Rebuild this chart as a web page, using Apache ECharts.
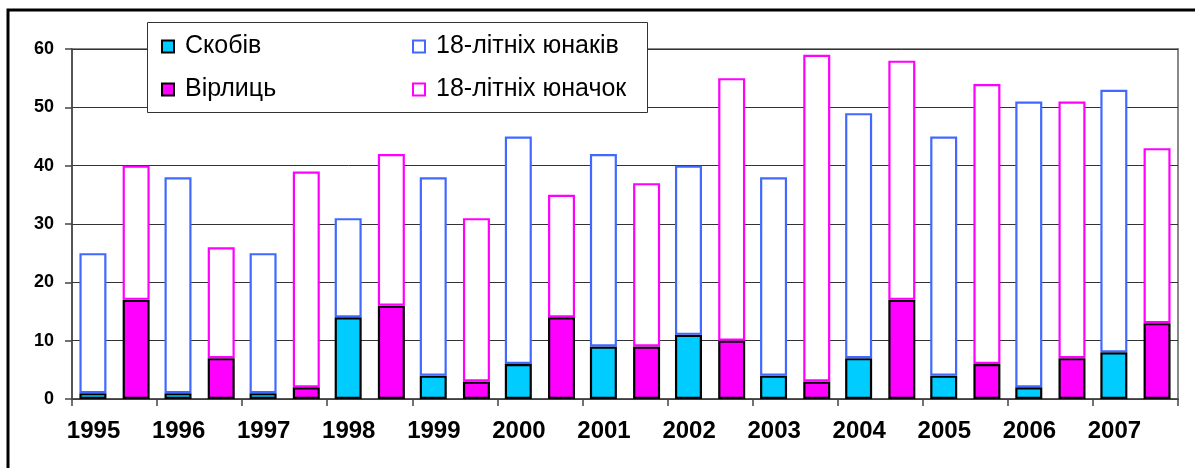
<!DOCTYPE html>
<html>
<head>
<meta charset="utf-8">
<script src="https://cdn.jsdelivr.net/npm/echarts@6/dist/echarts.min.js"></script>
<style>
  html, body { margin: 0; padding: 0; background: #fff; }
  #chart { width: 1195px; height: 468px; }
</style>
</head>
<body>
<div id="chart"></div>
<script>
// роки (по дві колонки на рік: юнаки / юначки)
var years = ["1995", "1996", "1997", "1998", "1999", "2000", "2001",
  "2002", "2003", "2004", "2005", "2006", "2007"];
var skobiv = [1, 1, 1, 14, 4, 6, 9, 11, 4, 7, 4, 2, 8];
var boys18 = [25, 38, 25, 31, 38, 45, 42, 40, 38, 49, 45, 51, 53];
var virlyts = [17, 7, 2, 16, 3, 14, 9, 10, 3, 17, 6, 7, 13];
var girls18 = [40, 26, 39, 42, 31, 35, 37, 55, 59, 58, 54, 51, 43];

var CYAN = "#00CCFF";
var MAGENTA = "#FF00FF";
var BLUE = "#4169FF";
var FONT = "Liberation Sans, Arial, sans-serif";

// верхня (біла) частина стовпця = загальна кількість мінус нижня частина
function rest(total, part) {
  var out = [];
  for (var i = 0; i < total.length; i++) {
    out.push(total[i] - part[i]);
  }
  return out;
}

function barSeries(name, stack, data, fill, border) {
  return {
    name: name,
    type: "bar",
    stack: stack,
    data: data,
    barWidth: 27,
    barGap: "60%",
    itemStyle: { color: fill, borderColor: border, borderWidth: 2.2 },
    emphasis: { disabled: true },
  };
}

function legendBlock(names, left) {
  return {
    data: names,
    orient: "vertical", left: left, top: 34, padding: 0,
    itemGap: 18, itemWidth: 12, itemHeight: 12,
    icon: "rect",
    textStyle: {
      fontSize: 25, color: "#000", fontFamily: FONT,
      padding: [0, 0, 0, 6],
    },
  };
}

var chart = echarts.init(document.getElementById("chart"));
var option = {
  animation: false,
  textStyle: { fontFamily: FONT },
  grid: {
    left: 72, right: 17, top: 49, bottom: 69,
    show: true, borderColor: "#888", borderWidth: 2,
  },
  graphic: [
    {
      type: "rect", z: 1,
      shape: { x: 8, y: 10, width: 1200, height: 470 },
      style: { fill: null, stroke: "#000", lineWidth: 3 },
    },
    {
      type: "rect", z: 3,
      shape: { x: 147.5, y: 22.5, width: 500, height: 90 },
      style: { fill: "#fff", stroke: "#333", lineWidth: 1 },
    },
  ],
  legend: [
    legendBlock(["Скобів", "Вірлиць"], 161),
    legendBlock(["18-літніх юнаків", "18-літніх юначок"], 412),
  ],
  xAxis: {
    type: "category",
    data: years,
    axisLine: { lineStyle: { color: "#444", width: 1.5 } },
    axisTick: { show: true, length: 7, lineStyle: { color: "#444", width: 1.5 } },
    axisLabel: {
      margin: 20,
      fontSize: 24,
      fontWeight: "bold",
      color: "#000",
      padding: [0, 42, 0, 0],
    },
  },
  yAxis: {
    type: "value",
    min: 0, max: 60, interval: 10,
    axisLine: { show: true, lineStyle: { color: "#444", width: 1.5 } },
    axisTick: { show: true, length: 7, lineStyle: { color: "#444", width: 1.5 } },
    splitLine: { lineStyle: { color: "#333", width: 1 } },
    axisLabel: { margin: 18, fontSize: 18, fontWeight: "bold", color: "#000" },
  },
  series: [
    barSeries("Скобів", "b", skobiv, CYAN, "#000"),
    barSeries("Вірлиць", "g", virlyts, MAGENTA, "#000"),
    barSeries("18-літніх юнаків", "b", rest(boys18, skobiv), "#fff", BLUE),
    barSeries("18-літніх юначок", "g", rest(girls18, virlyts), "#fff", MAGENTA),
  ],
};
chart.setOption(option);
</script>
</body>
</html>
